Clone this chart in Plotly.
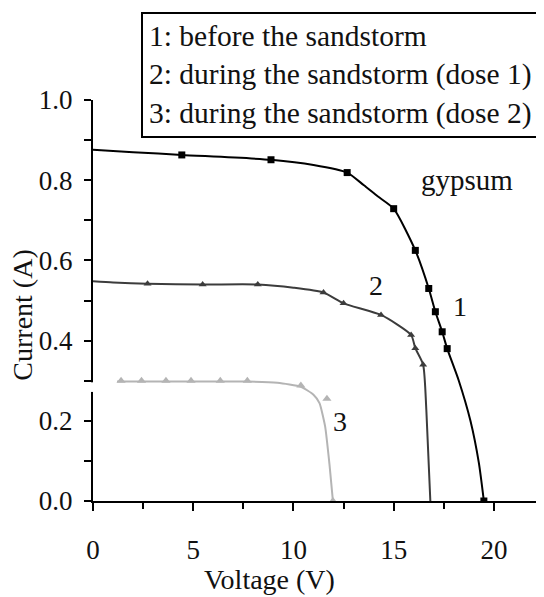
import plotly.graph_objects as go

# ---- data ----
# Curve 1: before the sandstorm (fitted line + measured points)
c1_line_v = [0, 2, 4.43, 8.88, 11.0, 12.68, 13.5, 14.2, 15.0, 16.08, 16.75, 17.08, 17.42, 17.67, 18.25, 18.83, 19.25, 19.5]
c1_line_i = [0.876, 0.870, 0.863, 0.851, 0.838, 0.819, 0.788, 0.760, 0.729, 0.625, 0.530, 0.472, 0.422, 0.380, 0.300, 0.200, 0.095, 0.0]
c1_pts_v = [4.43, 8.88, 12.68, 15.0, 16.08, 16.75, 17.08, 17.42, 17.67, 19.5]
c1_pts_i = [0.863, 0.851, 0.819, 0.729, 0.625, 0.530, 0.472, 0.422, 0.380, 0.0]

# Curve 2: during the sandstorm (dose 1)
c2_line_v = [0, 1.0, 2.72, 5.47, 8.22, 10.0, 11.5, 12.5, 14.37, 15.87, 16.08, 16.47, 16.63, 16.83]
c2_line_i = [0.548, 0.545, 0.542, 0.540, 0.540, 0.532, 0.520, 0.493, 0.464, 0.414, 0.381, 0.340, 0.227, 0.0]
c2_pts_v = [2.72, 5.47, 8.22, 11.5, 12.5, 14.37, 15.87, 16.08, 16.47]
c2_pts_i = [0.542, 0.540, 0.540, 0.520, 0.493, 0.464, 0.414, 0.381, 0.340]

# Curve 3: during the sandstorm (dose 2)
c3_line_v = [1.2, 7.70, 9.2, 10.37, 11.0, 11.3, 11.58, 11.8, 11.97]
c3_line_i = [0.298, 0.298, 0.295, 0.285, 0.265, 0.244, 0.186, 0.090, 0.0]
c3_pts_v = [1.40, 2.42, 3.64, 4.89, 6.35, 7.70, 10.37, 11.67, 11.97]
c3_pts_i = [0.300, 0.300, 0.300, 0.300, 0.300, 0.300, 0.288, 0.255, 0.0]

legend_lines = ["1: before the sandstorm",
                "2: during the sandstorm (dose 1)",
                "3: during the sandstorm (dose 2)"]
curve_labels = ["1", "2", "3"]
curve_label_v = [18.33, 14.13, 12.33]
curve_label_i = [0.485, 0.538, 0.199]

FONT = "Liberation Serif"
C1, C2, C3 = "#000000", "#3c3c3c", "#b4b4b4"

fig = go.Figure()
fig.add_trace(go.Scatter(x=c1_line_v, y=c1_line_i, mode="lines",
                         line=dict(color=C1, width=2, shape="spline", smoothing=0.6)))
fig.add_trace(go.Scatter(x=c1_pts_v, y=c1_pts_i, mode="markers",
                         marker=dict(symbol="square", size=7, color=C1)))
fig.add_trace(go.Scatter(x=c2_line_v, y=c2_line_i, mode="lines",
                         line=dict(color=C2, width=2, shape="spline", smoothing=0.6)))
fig.add_trace(go.Scatter(x=c2_pts_v, y=c2_pts_i, mode="markers",
                         marker=dict(symbol="triangle-up", size=7, color=C2)))
fig.add_trace(go.Scatter(x=c3_line_v, y=c3_line_i, mode="lines",
                         line=dict(color=C3, width=2, shape="spline", smoothing=0.5)))
fig.add_trace(go.Scatter(x=c3_pts_v, y=c3_pts_i, mode="markers",
                         marker=dict(symbol="triangle-up", size=8, color=C3)))

for t, xv, yv in zip(curve_labels, curve_label_v, curve_label_i):
    fig.add_annotation(x=xv, y=yv, text=t, showarrow=False,
                       font=dict(family=FONT, size=28, color="#111"))

fig.add_annotation(x=18.67, y=0.80, text="gypsum", showarrow=False,
                   font=dict(family=FONT, size=29, color="#111"))

fig.add_annotation(xref="paper", yref="paper", x=0.1076, y=1.2185,
                   xanchor="left", yanchor="top", align="left",
                   text="<br>".join(legend_lines), showarrow=False,
                   font=dict(family=FONT, size=29.5, color="#111"),
                   bordercolor="black", borderwidth=2, borderpad=6,
                   bgcolor="white")

fig.add_annotation(xref="paper", yref="paper", x=0.392, y=-0.196,
                   xanchor="center", yanchor="middle",
                   text="Voltage (V)", showarrow=False,
                   font=dict(family=FONT, size=28, color="#111"))
fig.add_annotation(xref="paper", yref="paper", x=-0.156, y=0.4645,
                   xanchor="center", yanchor="middle",
                   text="Current (A)", showarrow=False, textangle=-90,
                   font=dict(family=FONT, size=28, color="#111"))

# small break in the left axis line
fig.add_shape(type="rect", xref="paper", yref="y", x0=-0.008, x1=0.008,
              y0=0.272, y1=0.296, fillcolor="white", line=dict(width=0),
              layer="above")

# page body has an 8px margin: size the figure so it fits the 544x597 window
fig.update_layout(
    width=536, height=589,
    margin=dict(l=85, r=2, t=92, b=96),
    paper_bgcolor="white", plot_bgcolor="white",
    showlegend=False,
    font=dict(family=FONT, color="#111"),
)
fig.update_xaxes(range=[0, 22.4], showgrid=False, zeroline=False,
                 showline=True, linecolor="black", linewidth=2,
                 tickmode="linear", tick0=0, dtick=5,
                 ticks="outside", ticklen=8, tickwidth=2, tickcolor="black",
                 minor=dict(dtick=2.5, ticks="outside", ticklen=6, tickwidth=2, tickcolor="black"),
                 tickfont=dict(family=FONT, size=27, color="#111"),
                 ticklabelstandoff=16)
fig.update_yaxes(range=[0, 1.0], showgrid=False, zeroline=False,
                 showline=True, linecolor="black", linewidth=2,
                 tickmode="linear", tick0=0, dtick=0.2, tickformat=".1f",
                 ticks="outside", ticklen=7, tickwidth=2, tickcolor="black",
                 minor=dict(dtick=0.1, ticks="outside", ticklen=7, tickwidth=2, tickcolor="black"),
                 tickfont=dict(family=FONT, size=27, color="#111"),
                 ticklabelstandoff=6)

fig.write_html("out.html")
